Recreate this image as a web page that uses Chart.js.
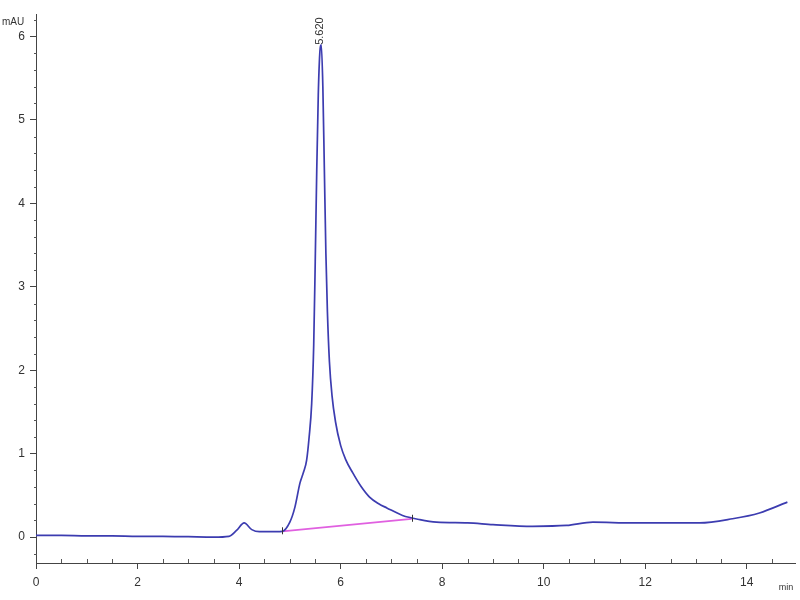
<!DOCTYPE html>
<html>
<head>
<meta charset="utf-8">
<script src="https://cdn.jsdelivr.net/npm/chart.js@4.4.1/dist/chart.umd.min.js"></script>
<style>
html,body{margin:0;padding:0;background:#fff;}
#wrap{width:800px;height:600px;position:relative;}
</style>
</head>
<body>
<div id="wrap"><canvas id="c" width="800" height="600"></canvas></div>
<script>
// Retention time (min)
const times = [0, 0.5, 1, 1.5, 2, 2.5, 3, 3.5, 3.8, 3.95, 4.1, 4.25, 4.4, 4.6, 4.85,
  5.0, 5.1, 5.2, 5.27, 5.33, 5.38, 5.43, 5.47, 5.5, 5.53, 5.56, 5.59, 5.62, 5.65, 5.68, 5.71, 5.74, 5.78, 5.83, 5.9,
  6.0, 6.1, 6.24, 6.4, 6.57, 6.75, 6.91, 7.22, 7.56, 7.89, 8.5, 9.0, 9.78, 10.45, 10.97,
  11.75, 12.4, 13.07, 13.72, 14.25, 14.8];
// Absorbance (mAU)
const signal = [0.02, 0.02, 0.015, 0.015, 0.01, 0.01, 0.005, 0.0, 0.01, 0.08, 0.17, 0.09, 0.065, 0.065, 0.07,
  0.18, 0.36, 0.65, 0.78, 0.92, 1.2, 1.6, 2.3, 3.3, 4.4, 5.3, 5.8, 5.9, 5.4, 4.4, 3.4, 2.7, 2.1, 1.7, 1.38,
  1.1, 0.93, 0.77, 0.61, 0.48, 0.4, 0.35, 0.26, 0.21, 0.18, 0.17, 0.15, 0.13, 0.14, 0.18,
  0.17, 0.17, 0.17, 0.22, 0.29, 0.42];
// Integration baseline
const baselineTimes = [4.85, 7.4];
const baselineValues = [0.07, 0.22];
// Peak annotation
const peakTime = 5.62;
const peakValue = 5.9;
const peakLabel = "5.620";
// Axis tick labels
const xTicks = [0, 2, 4, 6, 8, 10, 12, 14];
const yTicks = [0, 1, 2, 3, 4, 5, 6];
const xMinorStep = 0.5;
const yMinorStep = 0.2;

const FONT = "'Liberation Sans', Arial, sans-serif";

const extras = {
  id: 'extras',
  afterDraw(chart) {
    const ctx = chart.ctx;
    const xs = chart.scales.x, ys = chart.scales.y;
    const area = chart.chartArea;
    ctx.save();
    ctx.strokeStyle = '#555';
    ctx.lineWidth = 1;
    // minor ticks x (upward)
    for (let v = xs.min; v <= xs.max + 1e-9; v += xMinorStep) {
      const r = Math.round(v * 10) / 10;
      if (xTicks.includes(r)) continue;
      const px = Math.round(xs.getPixelForValue(r)) + 0.5;
      ctx.beginPath();
      ctx.moveTo(px, area.bottom - 4);
      ctx.lineTo(px, area.bottom);
      ctx.stroke();
    }
    // minor ticks y
    const start = Math.ceil(ys.min / yMinorStep) * yMinorStep;
    for (let v = start; v <= ys.max + 1e-9; v += yMinorStep) {
      const r = Math.round(v * 10) / 10;
      if (yTicks.includes(r)) continue;
      const py = Math.round(ys.getPixelForValue(r)) + 0.5;
      ctx.beginPath();
      ctx.moveTo(area.left - 2, py);
      ctx.lineTo(area.left + 1, py);
      ctx.stroke();
    }
    // baseline ends markers
    ctx.strokeStyle = '#333';
    for (let i = 0; i < baselineTimes.length; i++) {
      const px = Math.round(xs.getPixelForValue(baselineTimes[i])) + 0.5;
      const py = ys.getPixelForValue(baselineValues[i]);
      ctx.beginPath();
      ctx.moveTo(px, py - 4);
      ctx.lineTo(px, py + 3);
      ctx.stroke();
    }
    // axis unit labels
    ctx.fillStyle = '#333';
    ctx.font = '10px ' + FONT;
    ctx.textAlign = 'left';
    ctx.textBaseline = 'middle';
    ctx.fillText('mAU', 2, 22);
    ctx.font = '9px ' + FONT;
    ctx.textAlign = 'center';
    ctx.fillText('min', 786, 588);
    // peak label rotated
    const lx = xs.getPixelForValue(peakTime);
    const ly = ys.getPixelForValue(peakValue);
    ctx.translate(lx - 1, ly);
    ctx.rotate(-Math.PI / 2);
    ctx.font = '11px ' + FONT;
    ctx.textAlign = 'left';
    ctx.fillStyle = '#333';
    ctx.fillText(peakLabel, 0, 0);
    ctx.restore();
  }
};

const chart = new Chart(document.getElementById('c'), {
  type: 'line',
  data: {
    datasets: [
      {
        label: 'signal',
        data: times.map((t, i) => ({ x: t, y: signal[i] })),
        borderColor: '#3c3cb0',
        borderWidth: 1.7,
        pointRadius: 0,
        cubicInterpolationMode: 'monotone',
        fill: false,
        order: 1
      },
      {
        label: 'baseline',
        data: baselineTimes.map((t, i) => ({ x: t, y: baselineValues[i] })),
        borderColor: '#e060e0',
        borderWidth: 1.7,
        pointRadius: 0,
        fill: false,
        order: 2
      }
    ]
  },
  plugins: [extras],
  options: {
    responsive: false,
    animation: false,
    layout: { padding: { top: 14, right: 5, left: 0, bottom: 0 } },
    plugins: { legend: { display: false }, tooltip: { enabled: false } },
    scales: {
      x: {
        type: 'linear',
        min: 0,
        max: 14.95,
        afterBuildTicks: (s) => { s.ticks = xTicks.map(v => ({ value: v })); },
        afterFit: (s) => { s.height = 37; },
        border: { display: true, color: '#444', width: 1 },
        grid: { drawOnChartArea: false, drawTicks: true, tickLength: 6, tickColor: '#444' },
        ticks: { color: '#333', font: { family: FONT, size: 12 }, padding: 6, maxRotation: 0, autoSkip: false }
      },
      y: {
        type: 'linear',
        min: -0.31,
        max: 6.27,
        afterBuildTicks: (s) => { s.ticks = yTicks.map(v => ({ value: v })); },
        afterFit: (s) => { s.width = 36; },
        border: { display: true, color: '#444', width: 1 },
        grid: { drawOnChartArea: false, drawTicks: true, tickLength: 6, tickColor: '#444' },
        ticks: { color: '#333', font: { family: FONT, size: 12 }, padding: 5, autoSkip: false }
      }
    }
  }
});
</script>
</body>
</html>
